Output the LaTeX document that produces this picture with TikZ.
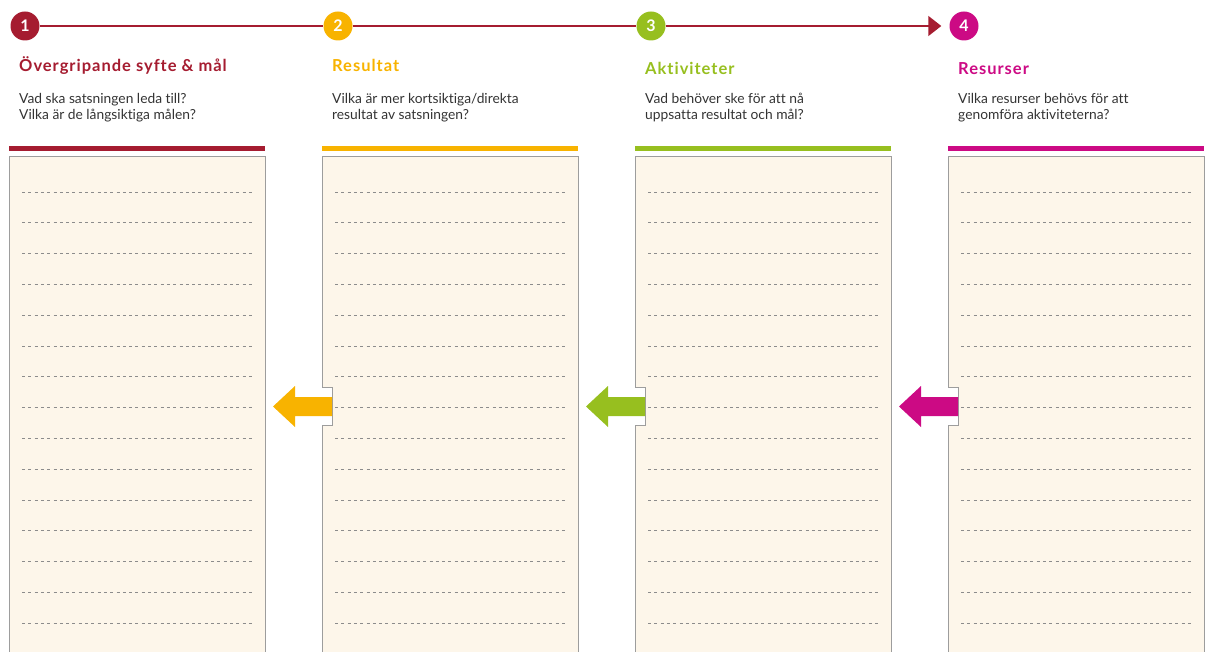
\documentclass[tikz,border=0pt]{standalone}
\usepackage{fontspec}
\setmainfont{Lato}[Ligatures=NoCommon]
\usetikzlibrary{arrows.meta}
\definecolor{goalred}{HTML}{A51C30}
\definecolor{resultyellow}{HTML}{F8B300}
\definecolor{activitygreen}{HTML}{97BF1F}
\definecolor{resourcepink}{HTML}{CC0A84}
\definecolor{paper}{HTML}{FDF6EA}
\definecolor{frame}{HTML}{9D9D9D}
\tikzset{
	num/.style={circle,fill=#1,text=white,font=\bfseries\fontsize{16}{16}\selectfont,minimum size=29pt,inner sep=0pt},
	heading/.style={anchor=base west,text=#1,font=\bfseries\fontsize{16.5}{16.5}\selectfont\addfontfeatures{LetterSpace=6},inner sep=0pt},
	question/.style={anchor=north west,align=left,font=\fontsize{13.8}{16}\selectfont,text=black!80,inner sep=0pt},
	topbar/.style={line width=4.5pt,draw=#1},
	sheet/.style={draw=frame,fill=paper,line width=1pt},
	writeline/.style={dash pattern=on 3pt off 3.3pt,draw=black!45,line width=0.8pt},
	flow/.style={draw=goalred,line width=1.5pt},
}
\begin{document}
\begin{tikzpicture}[x=1pt,y=-1pt]
		\useasboundingbox (0,0) rectangle (1212,652);
		\clip (0,0) rectangle (1212,652);
		%Numbers on top
			\foreach \i/\c/\x in {1/goalred/9,2/resultyellow/322,3/activitygreen/635,4/resourcepink/948}
			{
				\node[num=\c] (n\i) at (\x+16,26) {\i};
			}
			\draw[flow] (n1) -- (n2);
			\draw[flow] (n2) -- (n3);
			\draw[flow,-{Triangle[length=13pt,width=20pt]},shorten >=8pt] (n3) -- (n4);
		%Headings and questions
			\node[heading=goalred] (t1) at (19,72) {Övergripande syfte \& mål};
			\node[question] (q1) at (19,93) {Vad ska satsningen leda till?\\Vilka är de långsiktiga målen?};
			\node[heading=resultyellow] (t2) at (332,72) {Resultat};
			\node[question] (q2) at (332,93) {Vilka är mer kortsiktiga/direkta\\resultat av satsningen?};
			\node[heading=activitygreen] (t3) at (645,75) {Aktiviteter};
			\node[question] (q3) at (645,93) {Vad behöver ske för att nå\\uppsatta resultat och mål?};
			\node[heading=resourcepink] (t4) at (958,75) {Resurser};
			\node[question] (q4) at (958,93) {Vilka resurser behövs för att\\genomföra aktiviteterna?};
		%Sheets
			\draw[sheet] (9,157) rectangle (265,670);
			\foreach \x in {322,635,948}
			{
				\draw[sheet] (\x,670) -- (\x,425) -- (\x+10,425) -- (\x+10,387) -- (\x,387) -- (\x,157) -- (\x+256,157) -- (\x+256,670);
			}
			\foreach \i/\c/\x in {1/goalred/9,2/resultyellow/322,3/activitygreen/635,4/resourcepink/948}
			{
				\draw[topbar=\c] (\x,148.5) -- (\x+256,148.5);
				\foreach \k in {0,...,14}
					\draw[writeline] (\x+13,192+30.8*\k) -- (\x+245,192+30.8*\k);
			}
		%Arrows back
			\foreach \c/\x in {resultyellow/322,activitygreen/635,resourcepink/948}
			{
				\fill[\c] (\x-49,406.5) -- (\x-27,386) -- (\x-27,397) -- (\x+10,397) -- (\x+10,416) -- (\x-27,416) -- (\x-27,427) -- cycle;
			}
\end{tikzpicture}
\end{document}
